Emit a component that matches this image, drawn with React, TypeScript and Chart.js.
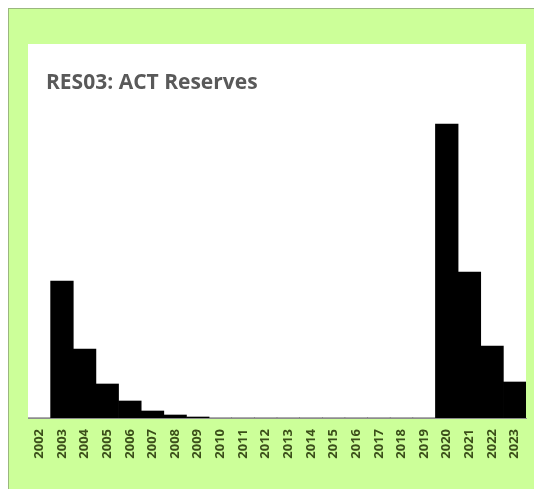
import React, { useEffect, useRef } from "react";
import { Chart, registerables } from "chart.js";

Chart.register(...registerables);

const years = [
  "2002", "2003", "2004", "2005", "2006", "2007", "2008", "2009", "2010", "2011", "2012",
  "2013", "2014", "2015", "2016", "2017", "2018", "2019", "2020", "2021", "2022", "2023",
];
const reserves = [0, 137, 69, 34, 17, 7, 3, 1, 0, 0, 0, 0, 0, 0, 0, 0, 0, 0, 294, 146, 72, 36];
const titleText = "RES03: ACT Reserves";
const yMax = 320;

const panelPlugin = {
  id: "panel",
  beforeDraw(chart: any) {
    const { ctx, chartArea } = chart;
    ctx.save();
    ctx.fillStyle = "#ffffff";
    ctx.fillRect(chartArea.left, 35, chartArea.right - chartArea.left, chartArea.bottom - 35);
    ctx.fillStyle = "#595959";
    ctx.font = "bold 21px 'Open Sans'";
    ctx.textBaseline = "alphabetic";
    ctx.textAlign = "left";
    ctx.fillText(titleText, 37, 80);
    ctx.restore();
  },
};

export default function App() {
  const ref = useRef<HTMLCanvasElement | null>(null);
  useEffect(() => {
    if (!ref.current) return;
    const chart = new Chart(ref.current, {
      type: "bar",
      data: {
        labels: years,
        datasets: [
          {
            data: reserves,
            backgroundColor: "#000000",
            borderWidth: 0,
            barPercentage: 1,
            categoryPercentage: 1,
          },
        ],
      },
      options: {
        animation: false,
        responsive: false,
        maintainAspectRatio: false,
        layout: { padding: { left: 19, right: 8, top: 89, bottom: 0 } },
        plugins: { legend: { display: false }, tooltip: { enabled: false }, title: { display: false } },
        scales: {
          x: {
            grid: { display: false, drawTicks: false },
            border: { display: true, color: "#8c8c8c", width: 1 },
            ticks: {
              color: "#3b4f1a",
              font: { family: "Open Sans", size: 13, weight: "bold" },
              maxRotation: 90,
              minRotation: 90,
              autoSkip: false,
              padding: 11,
            },
            afterFit: (s: any) => {
              s.height = 71;
              s.paddingLeft = 0;
              s.paddingRight = 0;
            },
          },
          y: { display: false, min: 0, max: yMax },
        },
      },
      plugins: [panelPlugin],
    });
    return () => chart.destroy();
  }, []);
  return (
    <div
      style={{
        position: "fixed",
        left: 8,
        top: 8,
        width: 525,
        height: 480,
        borderLeft: "1px solid #9bb77f",
        borderTop: "1px solid #9bb77f",
        background: "#ccff99",
        overflow: "hidden",
      }}
    >
      <canvas ref={ref} width={525} height={480} style={{ display: "block" }} />
    </div>
  );
}
